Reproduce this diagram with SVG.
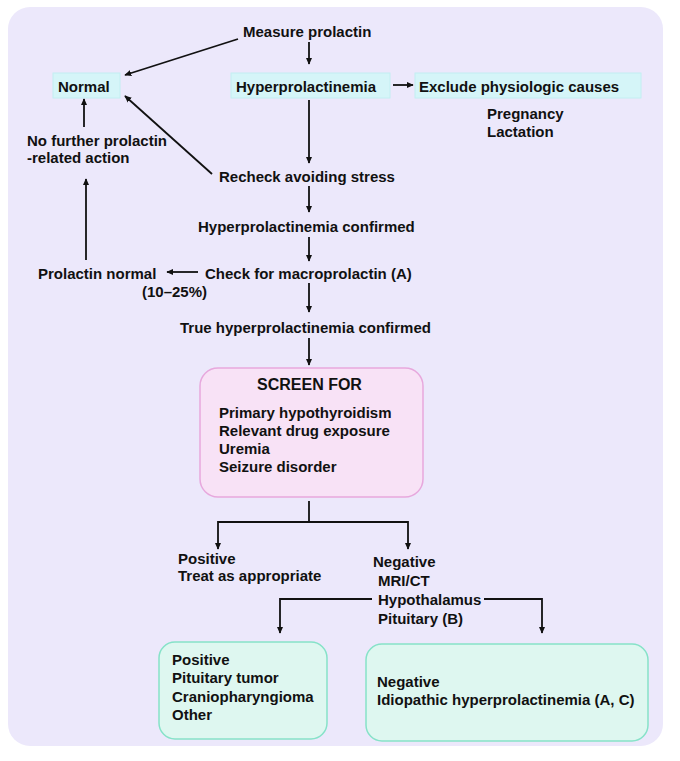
<svg xmlns="http://www.w3.org/2000/svg" width="680" height="761" viewBox="0 0 680 761">
<defs>
<marker id="ah" viewBox="0 0 10 10" refX="9" refY="5" markerWidth="7" markerHeight="7" markerUnits="userSpaceOnUse" orient="auto">
<path d="M0,0.5 L10,5 L0,9.5 Z" fill="#111"/>
</marker>
<style>
text{font-family:"Liberation Sans",Arial,sans-serif;font-size:15px;font-weight:bold;fill:#111}
.cy{fill:#D5F5F8;stroke:#C2EEF2;stroke-width:1}
.pk{fill:#F8E2F6;stroke:#E7A8DD;stroke-width:1.5}
.gr{fill:#DEF7F0;stroke:#86E2C8;stroke-width:1.5}
.c line,.c polyline{stroke:#111;stroke-width:1.8;fill:none}
.c .a{marker-end:url(#ah)}
</style>
</defs>
<rect x="0" y="0" width="680" height="761" fill="#ffffff"/>
<rect x="8" y="7" width="655" height="739" rx="22" fill="#ECE8FB"/>

<g id="measure"><text x="243" y="37">Measure prolactin</text></g>
<g id="normal"><rect class="cy" x="53" y="73" width="67" height="25"/><text x="58" y="92">Normal</text></g>
<g id="hyper"><rect class="cy" x="231" y="73" width="159" height="25"/><text x="236" y="92">Hyperprolactinemia</text></g>
<g id="exclude"><rect class="cy" x="415" y="73" width="226" height="25"/><text x="419" y="92">Exclude physiologic causes</text></g>
<g id="physio"><text x="487" y="119">Pregnancy</text><text x="487" y="137">Lactation</text></g>
<g id="nofurther"><text x="27" y="146">No further prolactin</text><text x="27" y="163">-related action</text></g>
<g id="recheck"><text x="219" y="182">Recheck avoiding stress</text></g>
<g id="confirmed"><text x="198" y="232">Hyperprolactinemia confirmed</text></g>
<g id="prlnormal"><text x="38" y="279">Prolactin normal</text><text x="142" y="297">(10–25%)</text></g>
<g id="macro"><text x="205" y="279">Check for macroprolactin (A)</text></g>
<g id="trueconf"><text x="180" y="333">True hyperprolactinemia confirmed</text></g>
<g id="screen"><rect class="pk" x="200" y="368" width="223" height="129" rx="18"/>
<text x="257" y="390" style="font-size:16px">SCREEN FOR</text>
<text x="219" y="418">Primary hypothyroidism</text>
<text x="219" y="436">Relevant drug exposure</text>
<text x="219" y="454">Uremia</text>
<text x="219" y="472">Seizure disorder</text></g>
<g id="positive1"><text x="178" y="564">Positive</text><text x="178" y="581">Treat as appropriate</text></g>
<g id="negative1"><text x="373" y="567">Negative</text><text x="378" y="586">MRI/CT</text><text x="378" y="605">Hypothalamus</text><text x="378" y="624">Pituitary (B)</text></g>
<g id="positive2"><rect class="gr" x="159" y="642" width="168" height="97" rx="16"/>
<text x="172" y="665">Positive</text><text x="172" y="683">Pituitary tumor</text><text x="172" y="702">Craniopharyngioma</text><text x="172" y="720">Other</text></g>
<g id="negative2"><rect class="gr" x="366" y="644" width="282" height="97" rx="16"/>
<text x="377" y="687">Negative</text><text x="377" y="705">Idiopathic hyperprolactinemia (A, C)</text></g>

<g id="connectors" class="c">
<line class="a" x1="238" y1="39" x2="125" y2="75"/>
<line class="a" x1="309" y1="42" x2="309" y2="64"/>
<line class="a" x1="393" y1="85" x2="413" y2="85"/>
<line class="a" x1="309" y1="100" x2="309" y2="163"/>
<line class="a" x1="212" y1="174" x2="125" y2="96"/>
<line class="a" x1="84" y1="127" x2="84" y2="99"/>
<line class="a" x1="86" y1="260" x2="86" y2="179"/>
<line class="a" x1="309" y1="186" x2="309" y2="212"/>
<line class="a" x1="309" y1="237" x2="309" y2="261"/>
<line class="a" x1="198" y1="272" x2="167" y2="272"/>
<line class="a" x1="309" y1="283" x2="309" y2="312"/>
<line class="a" x1="309" y1="338" x2="309" y2="365"/>
<line x1="309" y1="501" x2="309" y2="522"/>
<polyline class="a" points="309,522 218,522 218,549"/>
<polyline class="a" points="309,522 408,522 408,549"/>
<polyline class="a" points="372,599 280,599 280,633"/>
<polyline class="a" points="484,599 542,599 542,633"/>
</g>
</svg>
